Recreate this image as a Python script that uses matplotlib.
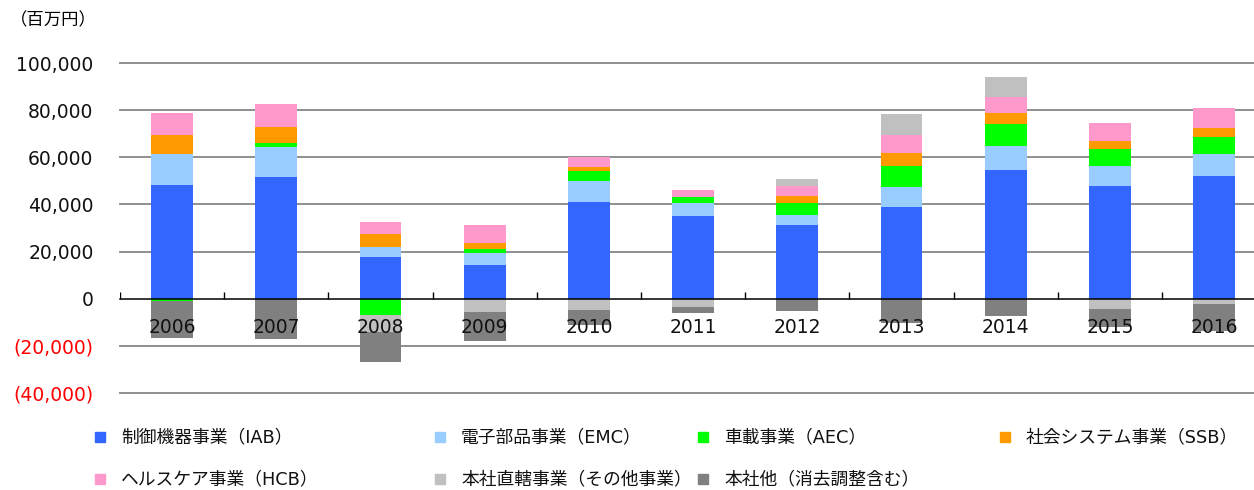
import matplotlib.pyplot as plt
import matplotlib.patches as mpatches
import numpy as np

plt.rcParams['font.family'] = ['DejaVu Sans', 'Noto Sans CJK JP']

years = ['2006', '2007', '2008', '2009', '2010', '2011',
         '2012', '2013', '2014', '2015', '2016']

# segment values (百万円)
iab = [48300, 51700, 17900, 14400, 41000, 35300, 31200, 38700, 54500, 47700, 52000]
emc = [13100, 12800, 4200, 5000, 9000, 5100, 4400, 8800, 10300, 8800, 9400]
aec = [-900, 1400, -6900, 1700, 4200, 2700, 4900, 9000, 9200, 7200, 7100]
ssb = [8100, 7100, 5200, 2500, 1600, 0, 3200, 5500, 5000, 3400, 4100]
hcb = [9200, 9600, 5100, 7500, 4200, 3100, 4200, 7500, 6500, 7300, 8500]
other = [0, 0, -7200, -5600, -4800, -3700, 2700, 8800, 8400, -4200, -2300]
hq = [-15800, -17200, -12700, -12300, -6500, -2300, -5200, -10200, -7200, -7800, -11400]

series = [
    ('制御機器事業（IAB）', iab, '#3366FF'),
    ('電子部品事業（EMC）', emc, '#99CCFF'),
    ('車載事業（AEC）', aec, '#00FF00'),
    ('社会システム事業（SSB）', ssb, '#FF9900'),
    ('ヘルスケア事業（HCB）', hcb, '#FF99CC'),
    ('本社直轄事業（その他事業）', other, '#C0C0C0'),
    ('本社他（消去調整含む）', hq, '#808080'),
]

fig = plt.figure(figsize=(12.54, 4.9), dpi=100)
ax = fig.add_axes([120 / 1254, 97 / 490, 1134 / 1254, 330 / 490])

x = np.arange(len(years))
pos_base = np.zeros(len(years))
neg_base = np.zeros(len(years))
for name, vals, col in series:
    v = np.array(vals, dtype=float)
    base = np.where(v >= 0, pos_base, neg_base)
    ax.bar(x, v, width=0.4, bottom=base, color=col, linewidth=0, zorder=3)
    pos_base += np.where(v >= 0, v, 0)
    neg_base += np.where(v < 0, v, 0)

yticks = np.arange(-40000, 100001, 20000)
for t in yticks:
    if t == 0:
        ax.axhline(t, color='black', lw=1.1, zorder=4, clip_on=False)
    else:
        ax.axhline(t, color='#878787', lw=1.3, zorder=1, clip_on=False)

# category separators on the zero line
ax.vlines(x - 0.5, 0, 3000, color='black', lw=1, zorder=4)

for i, yr in enumerate(years):
    ax.text(i, -12000, yr, ha='center', va='center', fontsize=13.5,
            color='#111111', zorder=6)

ax.set_xlim(-0.5, -0.5 + 1134 / 104.2)
ax.set_ylim(-40000, 100000)
ax.set_xticks([])
ax.set_yticks(yticks)
labels = []
for t in yticks:
    if t < 0:
        labels.append('({:,})'.format(-t))
    else:
        labels.append('{:,}'.format(t))
ax.set_yticklabels(labels, fontsize=13.5)
for lbl, t in zip(ax.get_yticklabels(), yticks):
    lbl.set_color('#FF0000' if t < 0 else '#111111')
ax.tick_params(axis='y', length=0, pad=19)
for s in ax.spines.values():
    s.set_visible(False)

fig.text(10 / 1254, 1 - 20 / 490, '（百万円）', fontsize=12.5, va='center', ha='left')

# legend laid out like the original (two rows, four columns)
col_x = [100, 440, 703, 1005]
row_y = [437, 479]
for k, (name, vals, col) in enumerate(series):
    r, c = divmod(k, 4)
    px, py = col_x[c], row_y[r]
    fig.patches.append(mpatches.Rectangle(((px - 5) / 1254, 1 - (py + 5) / 490),
                                          10 / 1254, 10 / 490, color=col,
                                          transform=fig.transFigure, figure=fig))
    fig.text((px + 21) / 1254, 1 - py / 490, name, fontsize=12.8,
             va='center', ha='left', color='#111111')

fig.savefig('out.png', dpi=100)
